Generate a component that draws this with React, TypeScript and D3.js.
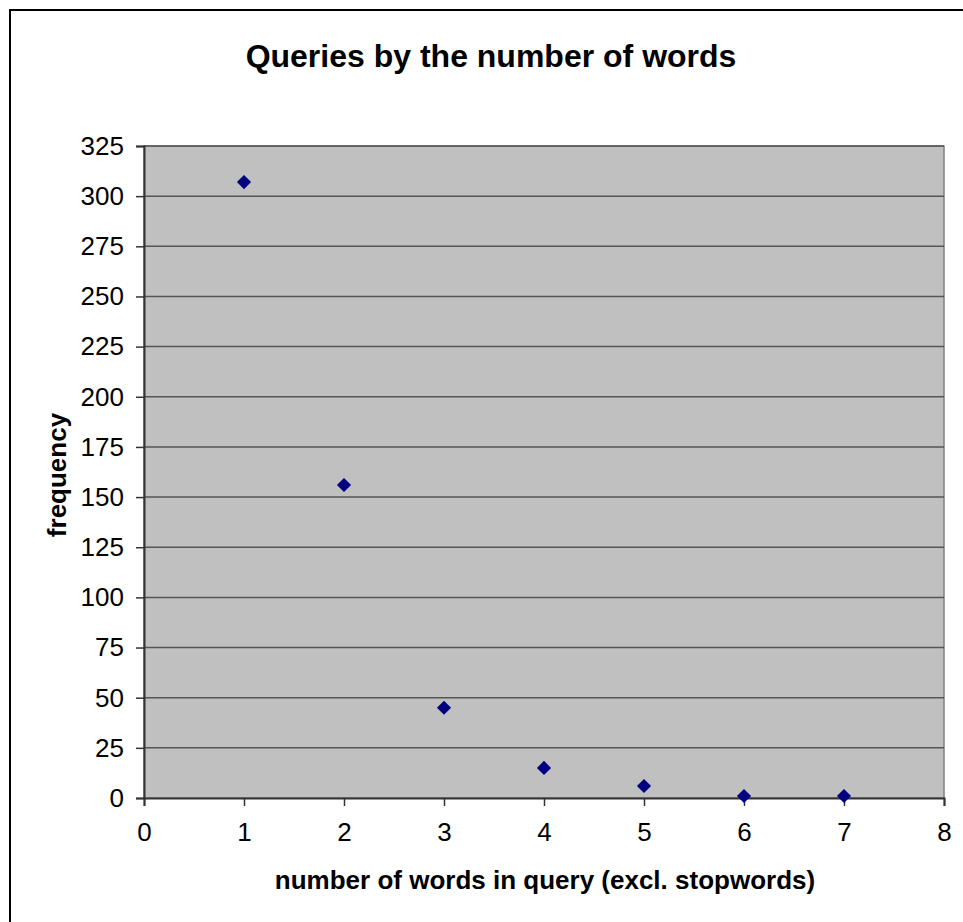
import { useEffect, useRef } from "react";
import * as d3 from "d3";

const wordCounts = [1, 2, 3, 4, 5, 6, 7];
const frequencies = [307, 156, 45, 15, 6, 1, 1];
const xTicks = [0, 1, 2, 3, 4, 5, 6, 7, 8];
const yTicks = [0, 25, 50, 75, 100, 125, 150, 175, 200, 225, 250, 275, 300, 325];

const W = 963;
const H = 922;

export default function App() {
    const svgRef = useRef<SVGSVGElement>(null);

    useEffect(() => {
        if (!svgRef.current) return;
        const svg = d3.select(svgRef.current);
        svg.selectAll("*").remove();

        const font = "'Liberation Sans', Arial, sans-serif";
        const plot = { left: 144, right: 944, top: 146, bottom: 798 };

        const x = d3.scaleLinear().domain([0, 8]).range([plot.left, plot.right]);
        const y = d3.scaleLinear().domain([0, 325]).range([plot.bottom, plot.top]);

        svg.append("rect").attr("width", W).attr("height", H).attr("fill", "#fff");

        // outer chart border (runs off the right and bottom edge)
        svg.append("rect")
            .attr("x", 10)
            .attr("y", 10)
            .attr("width", W + 20)
            .attr("height", H + 20)
            .attr("fill", "none")
            .attr("stroke", "#000")
            .attr("stroke-width", 2);

        svg.append("text")
            .attr("x", 491)
            .attr("y", 67)
            .attr("text-anchor", "middle")
            .style("font-family", font)
            .style("font-weight", "bold")
            .style("font-size", "32px")
            .text("Queries by the number of words");

        // plot area
        svg.append("rect")
            .attr("x", plot.left)
            .attr("y", plot.top)
            .attr("width", plot.right - plot.left)
            .attr("height", plot.bottom - plot.top)
            .attr("fill", "#c0c0c0")
            .attr("stroke", "#808080")
            .attr("stroke-width", 1.5);

        // gridlines
        svg.append("g")
            .selectAll("line")
            .data(yTicks.filter((d) => d > 0))
            .enter()
            .append("line")
            .attr("x1", plot.left)
            .attr("x2", plot.right)
            .attr("y1", (d) => y(d))
            .attr("y2", (d) => y(d))
            .attr("stroke", "#555")
            .attr("stroke-width", 1.5);

        const yAxis = svg.append("g")
            .attr("transform", `translate(${plot.left},0)`)
            .call(d3.axisLeft(y).tickValues(yTicks).tickSize(8).tickPadding(12));
        yAxis.select(".domain").attr("stroke", "#333").attr("stroke-width", 2);
        yAxis.selectAll(".tick line").attr("stroke", "#333").attr("stroke-width", 1.5);
        yAxis.selectAll("text")
            .style("font-family", font)
            .style("font-size", "26px")
            .attr("fill", "#000");

        const xAxis = svg.append("g")
            .attr("transform", `translate(0,${plot.bottom})`)
            .call(d3.axisBottom(x).tickValues(xTicks).tickSize(8).tickPadding(17));
        xAxis.select(".domain").attr("stroke", "#333").attr("stroke-width", 2);
        xAxis.selectAll(".tick line").attr("stroke", "#333").attr("stroke-width", 1.5);
        xAxis.selectAll("text")
            .style("font-family", font)
            .style("font-size", "26px")
            .attr("fill", "#000");

        const points = wordCounts.map((w, i) => ({ w, f: frequencies[i] }));
        const diamond = d3.symbol().type(d3.symbolSquare).size(100);
        svg.append("g")
            .selectAll("path")
            .data(points)
            .enter()
            .append("path")
            .attr("d", diamond)
            .attr("transform", (d) => `translate(${x(d.w)},${y(d.f)}) rotate(45)`)
            .attr("fill", "#000080");

        svg.append("text")
            .attr("x", 545)
            .attr("y", 889)
            .attr("text-anchor", "middle")
            .style("font-family", font)
            .style("font-weight", "bold")
            .style("font-size", "26px")
            .text("number of words in query (excl. stopwords)");

        svg.append("text")
            .attr("transform", `translate(66,475) rotate(-90)`)
            .attr("text-anchor", "middle")
            .style("font-family", font)
            .style("font-weight", "bold")
            .style("font-size", "26px")
            .text("frequency");
    }, []);

    return (
        <svg
            ref={svgRef}
            width={W}
            height={H}
            style={{ position: "absolute", left: 0, top: 0 }}
        ></svg>
    );
}
